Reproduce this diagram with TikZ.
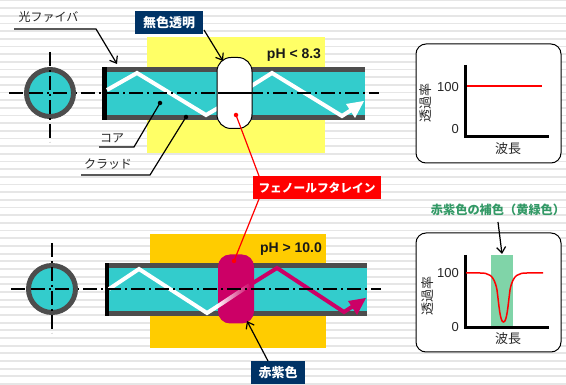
\documentclass[tikz,border=0pt]{standalone}
\usepackage{fontspec}
\setmainfont{Noto Sans CJK JP}
\newfontfamily\latinfont{Liberation Sans}
\usetikzlibrary{arrows.meta}
\definecolor{stripe}{HTML}{E6E6E6}
\definecolor{core}{HTML}{33CCCC}
\definecolor{clad}{HTML}{4D4D4D}
\definecolor{navy}{HTML}{003366}
\definecolor{magentaX}{HTML}{CC0066}
\definecolor{yellowX}{HTML}{FFFF66}
\definecolor{orangeX}{HTML}{FFCC00}
\definecolor{greenX}{HTML}{339966}
\definecolor{greenBand}{HTML}{80D4A8}
\tikzset{
  x=1pt,y=-1pt,
  labelnode/.style={inner sep=0pt,font=\fontsize{12}{12}\selectfont,text=black!85},
  axistext/.style={inner sep=0pt,font=\fontsize{13}{13}\selectfont,text=black!85},
  tagbox/.style={fill=navy,text=white,inner sep=0pt,font=\fontsize{13}{13}\selectfont\bfseries},
  redbox/.style={fill=red,text=white,inner sep=0pt,font=\fontsize{11.7}{12}\selectfont\bfseries},
  phlabel/.style={inner sep=0pt,font=\fontsize{14}{14}\selectfont\latinfont\bfseries,text=black!90},
  numlabel/.style={inner sep=0pt,font=\fontsize{13}{13}\selectfont\latinfont,text=black!85},
  leader/.style={line width=1.2pt,black},
  arrowline/.style={line width=1.2pt,black,-{Straight Barb[length=6pt,width=9pt,line width=1.2pt]}},
  axisline/.style={line width=2.6pt,black},
  centerline/.style={line width=1.2pt,black,dash pattern=on 14pt off 4pt on 2pt off 4pt},
  graphbox/.style={draw=black,line width=1pt,fill=white,rounded corners=10pt},
  ring/.style={draw=clad,line width=5pt,fill=core,circle,minimum size=47pt,inner sep=0pt},
  dot/.style={circle,inner sep=0pt,minimum size=4.5pt},
}
\begin{document}
\begin{tikzpicture}
\useasboundingbox (0,0) rectangle (566,385);
\fill[white] (0,0) rectangle (566,385);
\foreach \i in {0,...,50} \fill[stripe] (0,{max(0,7.67*\i-0.4)}) rectangle (566,{min(385,7.67*\i+1.4)});

% --- top fibre
\fill[yellowX] (147,37) rectangle (325,153);
\fill[core] (102,67) rectangle (365,120);
\fill[clad] (102,67) rectangle (365,72);
\fill[clad] (102,115) rectangle (365,120);
\fill[black] (102,67) rectangle (107,120);
\draw[white,line width=4pt,line join=miter] (107,90) -- (137,73) -- (206,115) -- (225,104);
\draw[white,line width=4pt,line join=miter] (245,90) -- (272,73) -- (342,116) -- (356,107);
\fill[white] (364,101) -- (346,104) -- (355,118) -- cycle;
\draw[centerline] (9,93) -- (379,93);
\node[ring] (c1) at (50,93) {};
\draw[centerline] (29,93) -- (71,93);
\draw[centerline] (50,52) -- (50,142);
\node[draw=black,line width=1pt,fill=white,rounded corners=14pt,minimum width=35pt,minimum height=71pt,inner sep=0pt] (plugA) at (234.5,93) {};
\draw[line width=1.2pt,black] (217.5,93) -- (251.5,93);

% --- bottom fibre
\fill[orangeX] (150,234) rectangle (326,348);
\fill[core] (105,263) rectangle (367,316);
\fill[clad] (105,263) rectangle (367,268);
\fill[clad] (105,311) rectangle (367,316);
\fill[black] (105,263) rectangle (109,316);
\node[fill=magentaX,rounded corners=12pt,minimum width=36pt,minimum height=69pt,inner sep=0pt] (plugB) at (236,289) {};
\draw[white,line width=4pt,line join=miter] (109,289) -- (139,269) -- (207,313) -- (218,306);
\begin{scope}[shift={(218,306)},rotate=33.5]
\shade[left color=white,right color=magentaX] (-0.5,-2) rectangle (38,2);
\end{scope}
\draw[magentaX,line width=4pt,line join=miter] (249.7,285) -- (277,268) -- (344,312) -- (358,303);
\fill[magentaX] (366,298) -- (348,301) -- (357,315) -- cycle;
\draw[centerline] (11,289) -- (381,289);
\node[ring] (c2) at (52,289) {};
\draw[centerline] (31,289) -- (73,289);
\draw[centerline] (52,243) -- (52,333);

% --- labels on the top left
\node[labelnode] (lblfiber) at (48.5,17) {光ファイバ};
\coordinate (f0) at (14,29); \coordinate (f1) at (96,29); \coordinate (f2) at (117,64);
\draw[arrowline] (f0) -- (f1) -- (f2);
\node[labelnode] (lblcore) at (112,138) {コア};
\node[dot,fill=black] (dcore) at (160,103) {};
\coordinate (k0) at (99,147); \coordinate (k1) at (134,147);
\draw[leader] (k0) -- (k1) -- (dcore.center);
\node[labelnode] (lblclad) at (108,164) {クラッド};
\node[dot,fill=black] (dclad) at (186,117) {};
\coordinate (d0) at (81,175); \coordinate (d1) at (150,175);
\draw[leader] (d0) -- (d1) -- (dclad.center);

% --- tag boxes
\node[tagbox,minimum width=68pt,minimum height=23pt] (tagA) at (169,22.5) {無色透明};
\coordinate (tagAout) at (204,30);
\coordinate (plugAtip) at (223,61);
\draw[arrowline] (tagAout) -- (plugAtip);
\node[redbox,minimum width=128pt,minimum height=23pt] (phenol) at (317,187.5) {フェノールフタレイン};
\node[dot,fill=red] (dA) at (236,115) {};
\node[dot,fill=red] (dB) at (234,261) {};
\coordinate (phenolA) at (259,176);
\coordinate (phenolB) at (259,199);
\draw[red,line width=1.2pt] (dA.center) -- (phenolA);
\draw[red,line width=1.2pt] (phenolB) -- (dB.center);
\node[tagbox,minimum width=54pt,minimum height=23pt] (tagB) at (278,372.5) {赤紫色};
\coordinate (tagBout) at (268,361);
\coordinate (plugBtip) at (247,321);
\draw[arrowline] (tagBout) -- (plugBtip);
\node[phlabel] (phA) at (294,55) {pH < 8.3};
\node[phlabel] (phB) at (291,249) {pH > 10.0};

% --- upper graph
\node[graphbox,minimum width=145pt,minimum height=119pt,inner sep=0pt] (g1) at (488.5,103.5) {};
\draw[axisline] (465.5,65) -- (465.5,136.5) -- (549,136.5);
\draw[red,line width=1.5pt] (467,86) -- (542,86);
\node[numlabel,anchor=east] (n100a) at (459,87) {100};
\node[numlabel,anchor=east] (n0a) at (459,129) {0};
\node[axistext,rotate=90] (ya) at (426,103.5) {透過率};
\node[axistext] (xa) at (508,149) {波長};

% --- lower graph
\node[graphbox,minimum width=145pt,minimum height=119pt,inner sep=0pt] (g2) at (488.5,292.5) {};
\fill[greenBand] (491,255) rectangle (513,326);
\draw[axisline] (465.5,255) -- (465.5,327.5) -- (549,327.5);
\draw[red,line width=1.5pt] (466,273) -- (480,273) .. controls (488,273) and (494,274) .. (497,290) .. controls (499,305) and (500,322) .. (503.5,322) .. controls (507,322) and (508,305) .. (510,290) .. controls (513,274) and (519,273) .. (527,273) -- (543,273);
\node[numlabel,anchor=east] (n100b) at (459,273) {100};
\node[numlabel,anchor=east] (n0b) at (459,327) {0};
\node[axistext,rotate=90] (yb) at (428,296) {透過率};
\node[axistext] (xb) at (508,339) {波長};
\node[inner sep=0pt,text=greenX,font=\fontsize{12.2}{12.2}\selectfont\bfseries] (title) at (498,210) {赤紫色の補色（黄緑色）};
\coordinate (bandtop) at (502,254);
\draw[arrowline] (498,222) -- (bandtop);
\end{tikzpicture}
\end{document}
